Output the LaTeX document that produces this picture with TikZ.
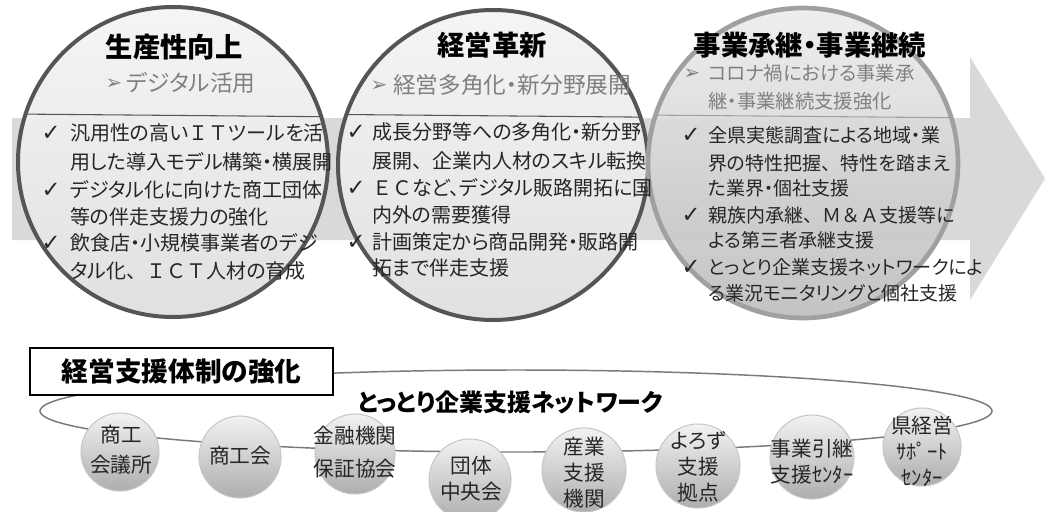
\documentclass[tikz,border=0pt]{standalone}
\usepackage{fontspec}
\newfontfamily\jp{Noto Sans CJK JP}[RawFeature=+palt]
\newfontfamily\jpw{Noto Sans CJK JP}
\newfontfamily\dv{DejaVu Sans}
\newcommand{\fw}[1]{{\jpw #1}}
\definecolor{bandc}{HTML}{D9D9D9}
\definecolor{ringdark}{HTML}{555555}
\definecolor{ringlight}{HTML}{A0A0A0}
\definecolor{subgray}{HTML}{808080}
\definecolor{txt}{HTML}{262626}
\definecolor{ellc}{HTML}{7A7A7A}
\tikzset{
  bigc/.style={circle, inner sep=0pt, outer sep=0pt, minimum size=232.5pt, line width=3pt},
  bigcA/.style={bigc, draw=ringdark, top color=white!96!black, bottom color=white!88!black},
  bigcC/.style={bigc, draw=ringlight, line width=3.5pt, top color=white!93!black, bottom color=white!74!black, fill opacity=0.9},
  hline/.style={draw=ringdark, line width=0.8pt},
  title/.style={font=\jp\bfseries\fontsize{20.5}{24}\selectfont, inner sep=0pt, text=black},
  subt/.style={font=\jp\fontsize{17}{20}\selectfont, inner sep=0pt, text=subgray, anchor=west},
  subtC/.style={subt, font=\jp\fontsize{14.5}{20}\selectfont},
  arr/.style={font=\dv\fontsize{15}{16}\selectfont, inner sep=0pt, text=subgray},
  btxt/.style={font=\jp\fontsize{15}{20}\selectfont, inner sep=0pt, text=txt, anchor=west},
  btxtC/.style={btxt, font=\jp\fontsize{14.25}{20}\selectfont},
  chk/.style={font=\dv\fontsize{17}{17}\selectfont, inner sep=0pt, text=txt},
  boxst/.style={draw=black, line width=1.1pt, fill=white, minimum width=227pt, minimum height=35pt, inner sep=0pt, font=\jp\bfseries\fontsize{20}{24}\selectfont},
  nettitle/.style={font=\jp\bfseries\fontsize{18}{20}\selectfont, inner sep=0pt},
  sball/.style={circle, draw=white!78!black, line width=0.8pt, top color=white!95!black, bottom color=white!68!black, inner sep=0pt, minimum size=#1},
  stxt/.style={font=\jp\fontsize{15.5}{19.5}\selectfont, align=center, inner sep=0pt, text=txt}
}
\begin{document}
\begin{tikzpicture}[x=0.75pt,y=-0.75pt]
\useasboundingbox (0,0) rectangle (1045,511);
\fill[white] (0,0) rectangle (1045,511);
% background arrow band
\fill[bandc] (12,118) -- (970,118) -- (970,57) -- (1045,178.5) -- (970,300) -- (970,240) -- (12,240) -- cycle;

% big circles
\node[bigcA] (C1) at (173,162) {};
\node[bigcA] (C2) at (493,165) {};
\node[bigcC] (C3) at (803,163) {};
\draw[hline] (C1.162.7) -- (C1.17.3);
\draw[hline] (C2.161.6) -- (C2.18.4);
\draw[hline, draw=ringlight] (C3.162.3) -- (C3.17.7);

% circle 1 text
\node[title] (T1) at (174,47) {生産性向上};
\node[arr] (A1) at (114,84) {➢};
\node[subt] (S1) at (126,83) {デジタル活用};
\node[chk] (K11) at (51,133) {✓};
\node[chk] (K12) at (51,190) {✓};
\node[chk] (K13) at (51,243) {✓};
\node[btxt] (L11) at (70,133) {汎用性の高い\fw{ＩＴ}ツールを活};
\node[btxt] (L12) at (70,162) {用した導入モデル構築・横展開};
\node[btxt] (L13) at (70,190) {デジタル化に向けた商工団体};
\node[btxt] (L14) at (70,217) {等の伴走支援力の強化};
\node[btxt] (L15) at (70,243) {飲食店・小規模事業者のデジ};
\node[btxt] (L16) at (70,271) {タル化\fw{、ＩＣＴ}人材の育成};

% circle 2 text
\node[title] (T2) at (492,45) {経営革新};
\node[arr] (A2) at (379,86) {➢};
\node[subt] (S2) at (393,85) {経営多角化・新分野展開};
\node[chk] (K21) at (356,132) {✓};
\node[chk] (K22) at (356,188) {✓};
\node[chk] (K23) at (356,242) {✓};
\node[btxt] (L21) at (372,132) {成長分野等への多角化・新分野};
\node[btxt] (L22) at (372,161) {展開\fw{、}企業内人材のスキル転換};
\node[btxt] (L23) at (372,188) {\fw{ＥＣ}など、デジタル販路開拓に国};
\node[btxt] (L24) at (372,215) {内外の需要獲得};
\node[btxt] (L25) at (372,242) {計画策定から商品開発・販路開};
\node[btxt] (L26) at (372,268) {拓まで伴走支援};

% circle 3 text
\node[title] (T3) at (810,45) {事業承継・事業継続};
\node[arr] (A3) at (692,74) {➢};
\node[subtC] (S31) at (708,73) {コロナ禍における事業承};
\node[subtC] (S32) at (708,101) {継・事業継続支援強化};
\node[chk] (K31) at (691,135) {✓};
\node[chk] (K32) at (691,215) {✓};
\node[chk] (K33) at (691,267) {✓};
\node[btxtC] (L31) at (708,135) {全県実態調査による地域・業};
\node[btxtC] (L32) at (708,163) {界の特性把握\fw{、}特性を踏まえ};
\node[btxtC] (L33) at (708,188) {た業界・個社支援};
\node[btxtC] (L34) at (708,215) {親族内承継\fw{、Ｍ＆Ａ}支援等に};
\node[btxtC] (L35) at (708,240) {よる第三者承継支援};
\node[btxtC] (L36) at (708,267) {とっとり企業支援ネットワークによ};
\node[btxtC] (L37) at (708,293) {る業況モニタリングと個社支援};

% network ring
\draw[draw=ellc, line width=1.1pt] (516,411) ellipse [x radius=476, y radius=41];
\node[boxst] (BOX) at (181.5,371.5) {経営支援体制の強化};
\node[nettitle] (NET) at (510,402) {とっとり企業支援ネットワーク};

% small circles
\node[sball=58.5pt] (B1) at (120,452) {};
\node[sball=61.5pt] (B2) at (240,457) {};
\node[sball=60pt] (B3) at (355,454) {};
\node[sball=61.5pt] (B4) at (470,480) {};
\node[sball=63pt] (B5) at (584,470) {};
\node[sball=63pt] (B6) at (698,466) {};
\node[sball=63pt] (B7) at (812,457) {};
\node[sball=58.5pt] (B8) at (922,447) {};
\node[stxt, font=\jp\fontsize{15.5}{22.5}\selectfont] (N1) at (121,450) {商工\\会議所};
\node[stxt] (N2) at (240,456) {商工会};
\node[stxt, font=\jp\fontsize{15.5}{24.5}\selectfont] (N3) at (355,452) {金融機関\\保証協会};
\node[stxt] (N4) at (471,479) {団体\\中央会};
\node[stxt] (N5) at (584,473) {産業\\支援\\機関};
\node[stxt] (N6) at (698,467) {よろず\\支援\\拠点};
\node[stxt] (N7) at (812,462) {事業引継\\支援ｾﾝﾀｰ};
\node[stxt] (N8) at (922,451) {県経営\\ｻﾎﾟｰﾄ\\ｾﾝﾀｰ};
\end{tikzpicture}
\end{document}
